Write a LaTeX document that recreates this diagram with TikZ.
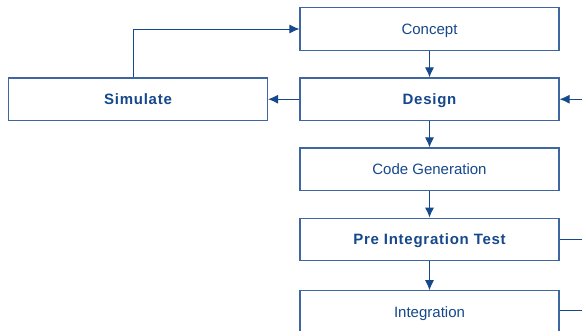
\documentclass[tikz,border=0pt]{standalone}
\usepackage{fontspec}
\setmainfont{Liberation Sans}
\usepackage{tikz}
\usepackage{xcolor}
\usetikzlibrary{calc, arrows.meta}

\definecolor{flowblue}{RGB}{22,72,140}
\definecolor{boxblue}{RGB}{62,102,160}

\tikzset{
    stage/.style={draw=boxblue, line width=1.1pt, fill=white, text=flowblue,
        minimum width=259pt, minimum height=42.5pt, inner sep=0pt,
        text height=10.7pt, text depth=0pt,
        font=\fontsize{15}{18}\selectfont},
    stagebold/.style={stage, font=\fontsize{15}{18}\selectfont\bfseries\addfontfeatures{LetterSpace=5}},
    flow/.style={draw=flowblue, line width=1pt, -{Latex[length=10pt,width=9pt]}},
    flowline/.style={draw=flowblue, line width=1pt}
}

\begin{document}
\begin{tikzpicture}[x=1pt, y=-1pt]
        \useasboundingbox (0,0) rectangle (582,330);
        \node[stage] (concept) at (429.5,29) {Concept};
        \node[stagebold] (design) at (429.5,99.2) {Design};
        \node[stage] (codegen) at (429.5,169.2) {Code Generation};
        \node[stagebold] (preint) at (429.5,239.4) {Pre Integration Test};
        \node[stage] (integ) at (429.5,312) {Integration};
        \node[stagebold] (sim) at (138,99.2) {Simulate};
        \coordinate (feedin) at (582,99.2);
        \coordinate (preout) at (582,239.4);
        \coordinate (integout) at (582,310.5);
        \draw[flow] (concept) -- (design);
        \draw[flow] (design) -- (codegen);
        \draw[flow] (codegen) -- (preint);
        \draw[flow] (preint) -- (integ);
        \draw[flow] (design) -- (sim);
        \draw[flow] ([xshift=-5pt]sim.north) |- (concept.west);
        \draw[flow] (feedin) -- (design);
        \draw[flowline] (preint) -- (preout);
        \draw[flowline] (integ.east |- integout) -- (integout);
    \end{tikzpicture}
\end{document}
